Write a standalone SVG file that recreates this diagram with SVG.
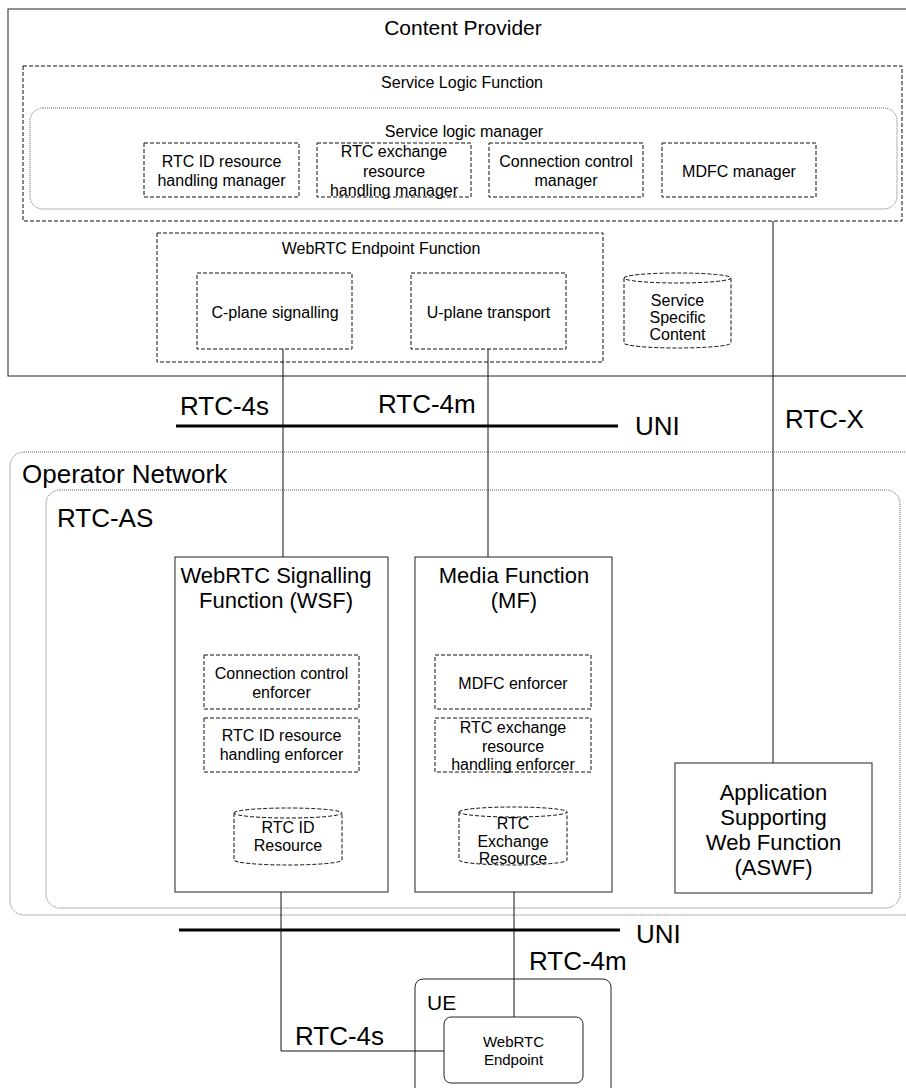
<svg xmlns="http://www.w3.org/2000/svg" width="906" height="1088" viewBox="0 0 906 1088">
  <style>
    text { font-family: "Liberation Sans", Arial, sans-serif; fill: #000; text-anchor: middle; }
    .t16 { font-size: 16px; }
    .t15 { font-size: 15px; }
    .t21 { font-size: 21px; }
    .t22 { font-size: 22px; }
    .t26 { font-size: 26px; }
    .left { text-anchor: start; }
    .solid { fill: #fff; stroke: #222; stroke-width: 1; }
    .dash { fill: none; stroke: #111; stroke-width: 1; stroke-dasharray: 4 2; }
    .dot { fill: none; stroke: #666; stroke-width: 1; stroke-dasharray: 1 1; }
    .link { fill: none; stroke: #111; stroke-width: 1; }
    .uni { fill: none; stroke: #000; stroke-width: 3; }
  </style>

  <rect width="906" height="1088" fill="#fff"/>

  <!-- Content provider domain -->
  <g id="content-provider">
    <rect class="solid" x="8" y="9" width="910" height="367"/>
    <text class="t21" x="463" y="35">Content Provider</text>
  </g>

  <g id="service-logic-function">
    <rect class="dash" x="23" y="66" width="879" height="155"/>
    <text class="t16" x="462" y="88">Service Logic Function</text>
  </g>

  <g id="service-logic-manager">
    <rect class="dot" x="30" y="108" width="867" height="101" rx="13"/>
    <text class="t16" x="464" y="137">Service logic manager</text>
  </g>

  <g id="rtc-id-manager">
    <rect class="dash" x="144" y="143" width="155" height="54"/>
    <text class="t16" x="221.5" y="167">RTC ID resource</text>
    <text class="t16" x="221.5" y="186">handling manager</text>
  </g>

  <g id="rtc-exchange-manager">
    <rect class="dash" x="317" y="143" width="154" height="54"/>
    <text class="t16" x="394" y="157">RTC exchange</text>
    <text class="t16" x="394" y="177">resource</text>
    <text class="t16" x="394" y="196">handling manager</text>
  </g>

  <g id="connection-control-manager">
    <rect class="dash" x="489" y="143" width="154" height="54"/>
    <text class="t16" x="566" y="167">Connection control</text>
    <text class="t16" x="566" y="186">manager</text>
  </g>

  <g id="mdfc-manager">
    <rect class="dash" x="662" y="143" width="154" height="54"/>
    <text class="t16" x="739" y="177">MDFC manager</text>
  </g>

  <g id="webrtc-endpoint-function">
    <rect class="dash" x="157" y="233" width="446" height="129"/>
    <text class="t16" x="381" y="254">WebRTC Endpoint Function</text>
  </g>

  <g id="c-plane">
    <rect class="dash" x="197" y="273" width="155" height="76"/>
    <text class="t16" x="275" y="318">C-plane signalling</text>
  </g>

  <g id="u-plane">
    <rect class="dash" x="411" y="273" width="155" height="76"/>
    <text class="t16" x="488.5" y="318">U-plane transport</text>
  </g>

  <g id="service-specific-content">
    <path class="dash" d="M624,278 A53.5,5 0 0 1 731,278 A53.5,5 0 0 1 624,278 Z M624,278 L624,343 A53.5,5 0 0 0 731,343 L731,278"/>
    <text class="t16" x="677.5" y="306">Service</text>
    <text class="t16" x="677.5" y="323">Specific</text>
    <text class="t16" x="677.5" y="340">Content</text>
  </g>

  <!-- Reference points between domains -->
  <g id="reference-points">
    <line class="uni" x1="176" y1="426" x2="618" y2="426"/>
    <text class="t26 left" x="180" y="415">RTC-4s</text>
    <text class="t26 left" x="378" y="413">RTC-4m</text>
    <text class="t26 left" x="635" y="435">UNI</text>
    <text class="t26 left" x="785" y="428">RTC-X</text>
    <line class="uni" x1="179" y1="930" x2="620" y2="930"/>
    <text class="t26 left" x="636" y="943">UNI</text>
    <text class="t26 left" x="529" y="970">RTC-4m</text>
    <text class="t26 left" x="295" y="1045">RTC-4s</text>
  </g>

  <!-- Operator domain -->
  <g id="operator-network">
    <rect class="dot" x="10" y="452" width="920" height="463" rx="14"/>
    <text class="t26 left" x="22" y="483">Operator Network</text>
  </g>

  <g id="rtc-as">
    <rect class="dot" x="46" y="490" width="854" height="418" rx="14"/>
    <text class="t26 left" x="57" y="527">RTC-AS</text>
  </g>

  <g id="wsf">
    <rect class="solid" x="175" y="557" width="213" height="335"/>
    <text class="t22" x="276" y="583">WebRTC Signalling</text>
    <text class="t22" x="276" y="608">Function (WSF)</text>
  </g>

  <g id="connection-control-enforcer">
    <rect class="dash" x="204" y="655" width="155" height="54"/>
    <text class="t16" x="281.5" y="679">Connection control</text>
    <text class="t16" x="281.5" y="698">enforcer</text>
  </g>

  <g id="rtc-id-enforcer">
    <rect class="dash" x="204" y="718" width="155" height="54"/>
    <text class="t16" x="281.5" y="741">RTC ID resource</text>
    <text class="t16" x="281.5" y="760">handling enforcer</text>
  </g>

  <g id="rtc-id-resource">
    <path class="dash" d="M234,813 A54,5 0 0 1 342,813 A54,5 0 0 1 234,813 Z M234,813 L234,860 A54,5 0 0 0 342,860 L342,813"/>
    <text class="t16" x="288" y="833">RTC ID</text>
    <text class="t16" x="288" y="851">Resource</text>
  </g>

  <g id="mf">
    <rect class="solid" x="415" y="557" width="197" height="335"/>
    <text class="t22" x="514" y="583">Media Function</text>
    <text class="t22" x="514" y="608">(MF)</text>
  </g>

  <g id="mdfc-enforcer">
    <rect class="dash" x="435" y="655" width="156" height="54"/>
    <text class="t16" x="513" y="689">MDFC enforcer</text>
  </g>

  <g id="rtc-exchange-enforcer">
    <rect class="dash" x="435" y="718" width="156" height="54"/>
    <text class="t16" x="513" y="733">RTC exchange</text>
    <text class="t16" x="513" y="752">resource</text>
    <text class="t16" x="513" y="770">handling enforcer</text>
  </g>

  <g id="rtc-exchange-resource">
    <path class="dash" d="M459,812 A54,5 0 0 1 567,812 A54,5 0 0 1 459,812 Z M459,812 L459,860 A54,5 0 0 0 567,860 L567,812"/>
    <text class="t16" x="513" y="829">RTC</text>
    <text class="t16" x="513" y="847">Exchange</text>
    <text class="t16" x="513" y="864">Resource</text>
  </g>

  <g id="aswf">
    <rect class="solid" x="675" y="763" width="197" height="130"/>
    <text class="t22" x="773.5" y="800">Application</text>
    <text class="t22" x="773.5" y="825">Supporting</text>
    <text class="t22" x="773.5" y="850">Web Function</text>
    <text class="t22" x="773.5" y="875">(ASWF)</text>
  </g>

  <!-- User equipment -->
  <g id="ue">
    <rect class="solid" x="415" y="979" width="196" height="130" rx="8"/>
    <text class="t21 left" x="427" y="1010">UE</text>
  </g>

  <g id="webrtc-endpoint">
    <rect class="solid" x="444" y="1017" width="139" height="66" rx="7"/>
    <text class="t15" x="513.5" y="1047">WebRTC</text>
    <text class="t15" x="513.5" y="1065">Endpoint</text>
  </g>

  <!-- Connectors -->
  <g id="connectors">
    <line class="link" x1="283" y1="349" x2="283" y2="557"/>
    <line class="link" x1="488" y1="349" x2="488" y2="557"/>
    <line class="link" x1="773" y1="221" x2="773" y2="763"/>
    <polyline class="link" points="281,892 281,1051 444,1051"/>
    <line class="link" x1="514" y1="892" x2="514" y2="1017"/>
  </g>
</svg>
